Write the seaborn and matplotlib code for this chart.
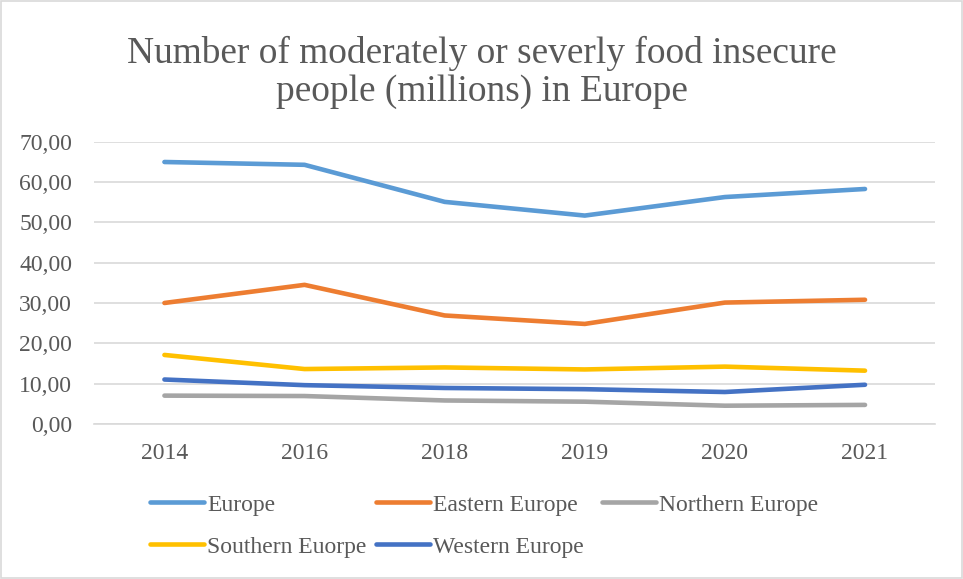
import pandas as pd
import matplotlib
matplotlib.use("Agg")
import matplotlib.pyplot as plt
import seaborn as sns
from matplotlib.patches import Rectangle
from matplotlib.lines import Line2D

# data
years = ["2014", "2016", "2018", "2019", "2020", "2021"]
europe = [65.0, 64.3, 55.1, 51.7, 56.3, 58.3]
eastern = [30.0, 34.5, 26.9, 24.8, 30.1, 30.8]
northern = [7.0, 6.9, 5.8, 5.5, 4.5, 4.7]
southern = [17.1, 13.6, 14.0, 13.5, 14.2, 13.2]
western = [11.0, 9.6, 8.9, 8.6, 7.9, 9.7]

series_names = ["Europe", "Eastern Europe", "Northern Europe",
                "Southern Euorpe", "Western Europe"]
colors = ["#5b9bd5", "#ed7d31", "#a5a5a5", "#ffc000", "#4472c4"]

rows = []
for name, vals in zip(series_names, [europe, eastern, northern, southern, western]):
    for y, v in zip(years, vals):
        rows.append({"Year": y, "Value": v, "Region": name})
df = pd.DataFrame(rows)

sns.set_style("white")
plt.rcParams["font.family"] = ["Liberation Serif", "DejaVu Serif"]
grey_text = "#595959"
fs = 17

fig = plt.figure(figsize=(9.63, 5.79), dpi=100)
ax = fig.add_axes([0.098, 0.268, 0.873, 0.487])

sns.lineplot(data=df, x="Year", y="Value", hue="Region", hue_order=series_names,
             palette=colors, linewidth=3.3, sort=False, legend=False, ax=ax)
for ln in ax.lines:
    ln.set_solid_capstyle("round")
    ln.set_solid_joinstyle("round")

ax.set_xlim(-0.5, len(years) - 0.5)
ax.set_ylim(0, 70)
ax.set_yticks(range(0, 71, 10))
ax.set_yticklabels([f"{v},00" for v in range(0, 71, 10)])
ax.yaxis.grid(True, color="#d9d9d9", linewidth=1.2)
ax.set_axisbelow(True)
for s in ["top", "right", "left"]:
    ax.spines[s].set_visible(False)
ax.spines["bottom"].set_color("#d9d9d9")
ax.spines["bottom"].set_linewidth(1.2)
ax.tick_params(axis="both", length=0, labelsize=fs, colors=grey_text)
ax.tick_params(axis="x", pad=14)
ax.tick_params(axis="y", pad=16)
ax.set_xlabel("")
ax.set_ylabel("")

fig.text(0.5, 0.875, "Number of moderately or severly food insecure\npeople (millions) in Europe",
         ha="center", va="center", fontsize=26.9, color=grey_text, linespacing=1.14)

# Excel lays the legend out in equal-width columns, filled row by row
legend_cols = [[0, 3], [1, 4], [2]]
col_x = [150, 376, 602]
for idxs, x0 in zip(legend_cols, col_x):
    handles = [Line2D([0], [0], color=colors[i], linewidth=3.3, solid_capstyle="round")
               for i in idxs]
    labels = [series_names[i] for i in idxs]
    fig.legend(handles, labels, loc="upper left", bbox_to_anchor=(x0 / 963, 1 - 494 / 579),
               ncol=1, frameon=False, fontsize=fs, labelcolor=grey_text,
               handlelength=2.3, handletextpad=0.13, labelspacing=0.87,
               borderpad=0, borderaxespad=0)

fig.patches.append(Rectangle((0.001, 0.001), 0.998, 0.997, transform=fig.transFigure,
                             fill=False, edgecolor="#d9d9d9", linewidth=1.2))

fig.savefig("out.png", dpi=100)
